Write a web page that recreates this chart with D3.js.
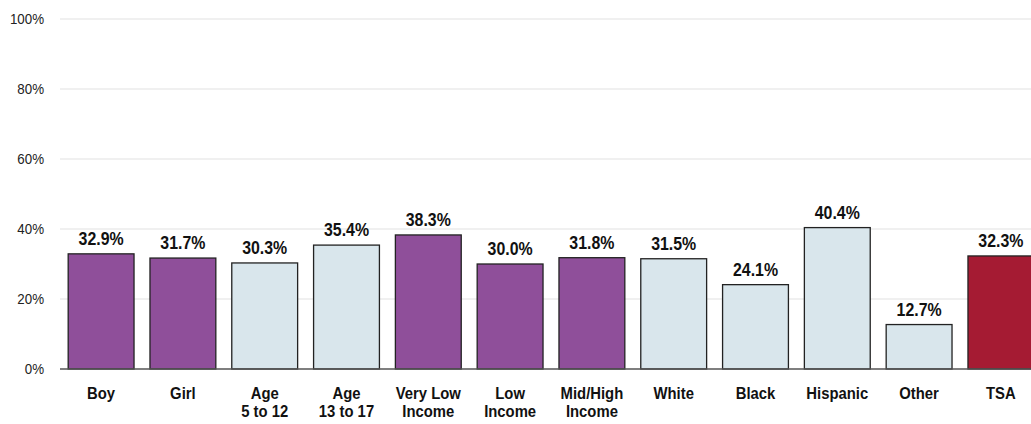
<!DOCTYPE html>
<html>
<head>
<meta charset="utf-8">
<script src="https://cdn.jsdelivr.net/npm/d3@7"></script>
<style>
html,body{margin:0;padding:0;background:#fff;}
svg{display:block;}
text{font-family:"Liberation Sans",Arial,sans-serif;}
</style>
</head>
<body>
<script>
const categories = ["Boy","Girl","Age\n5 to 12","Age\n13 to 17","Very Low\nIncome","Low\nIncome","Mid/High\nIncome","White","Black","Hispanic","Other","TSA"];
const values = [32.9,31.7,30.3,35.4,38.3,30.0,31.8,31.5,24.1,40.4,12.7,32.3];
const groups = ["purple","purple","light","light","purple","purple","purple","light","light","light","light","red"];
const yTicks = [0,20,40,60,80,100];

const W = 1031, H = 424;
const colors = {purple:"#8F4F9A", light:"#D9E6EC", red:"#A51B33"};

const svg = d3.select("body").append("svg").attr("width",W).attr("height",H);

const x = d3.scaleBand().domain(d3.range(categories.length)).range([60,1042]).paddingInner(0.195).paddingOuter(0.1);
const y = d3.scaleLinear().domain([0,100]).range([369,19]);

// gridlines
svg.append("g").selectAll("line").data(yTicks.filter(d=>d>0)).join("line")
  .attr("x1",60).attr("x2",W).attr("y1",d=>y(d)).attr("y2",d=>y(d))
  .attr("stroke","#ebebeb").attr("stroke-width",1.5);

// y axis tick labels
const yAxis = d3.axisLeft(y).tickValues(yTicks).tickFormat(d=>d+"%").tickSize(0).tickPadding(0);
const ya = svg.append("g").attr("transform","translate(44,0)").call(yAxis);
ya.select(".domain").remove();
ya.attr("font-family",null).attr("font-size",null);
ya.selectAll("text").attr("font-size",14.5).attr("fill","#222")
  .attr("transform","scale(0.92,1)").attr("x",0);

// bars
svg.append("g").selectAll("rect").data(values).join("rect")
  .attr("x",(d,i)=>x(i)).attr("width",x.bandwidth())
  .attr("y",d=>y(d)).attr("height",d=>y(0)-y(d))
  .attr("fill",(d,i)=>colors[groups[i]])
  .attr("stroke","#222").attr("stroke-width",1.3);

// baseline
svg.append("line").attr("x1",60).attr("x2",W).attr("y1",y(0)).attr("y2",y(0))
  .attr("stroke","#555").attr("stroke-width",1.6);

// value labels
svg.append("g").selectAll("text").data(values).join("text")
  .attr("transform",(d,i)=>`translate(${x(i)+x.bandwidth()/2},${y(d)-9}) scale(0.86,1)`)
  .attr("text-anchor","middle").attr("font-size",18.5).attr("font-weight","bold").attr("fill","#111")
  .text(d=>d.toFixed(1)+"%");

// category labels
const cg = svg.append("g").selectAll("text").data(categories).join("text")
  .attr("transform",(d,i)=>`translate(${x(i)+x.bandwidth()/2},399) scale(0.9,1)`)
  .attr("text-anchor","middle").attr("font-size",16.5).attr("font-weight","bold").attr("fill","#111");
cg.each(function(d){
  const t = d3.select(this);
  d.split("\n").forEach((line,k)=>{
    t.append("tspan").attr("x",0).attr("dy",k===0?0:18).text(line);
  });
});
</script>
</body>
</html>
